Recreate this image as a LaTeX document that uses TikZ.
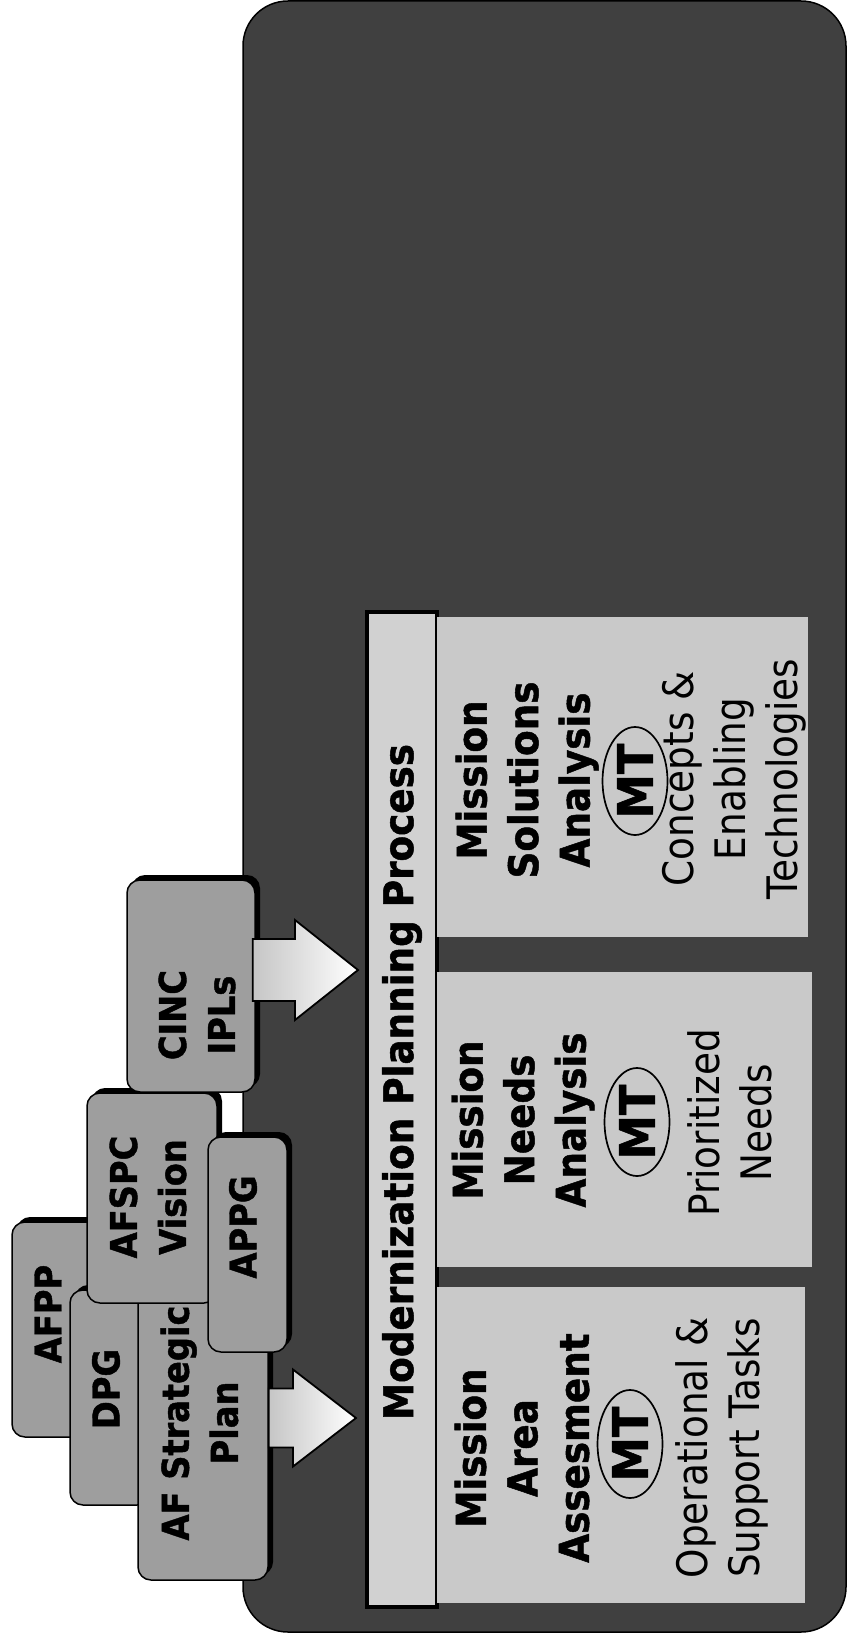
\documentclass[tikz,border=0pt]{standalone}
\usepackage{fontspec}
\usetikzlibrary{calc,shapes.geometric,shadows}
\newfontfamily\bfam{DejaVu Sans Bold}[FakeStretch=0.91, FakeBold=1.2]
\newfontfamily\rfam{DejaVu Sans}[FakeStretch=0.89]
\definecolor{darkg}{gray}{0.25}
\definecolor{midg}{gray}{0.62}
\definecolor{lightg}{gray}{0.79}
\definecolor{barg}{gray}{0.82}
\tikzset{
  panel/.style={draw=black, line width=1.5pt, fill=darkg, rounded corners=45pt, inner sep=0pt},
  card/.style={draw=black, line width=1.5pt, fill=midg, rounded corners=13pt, inner sep=0pt,
    drop shadow={shadow xshift=5pt, shadow yshift=5pt, opacity=1, fill=black}},
  cardtext/.style={rotate=90, align=center, inner sep=0pt, font=\bfam\fontsize{37}{49}\selectfont},
  barbox/.style={draw=black, line width=4pt, fill=barg, inner sep=0pt},
  stagebox/.style={fill=lightg, inner sep=0pt},
  bartext/.style={rotate=90, inner sep=0pt, font=\bfam\fontsize{41}{51}\selectfont},
  headtext/.style={rotate=90, align=center, inner sep=0pt, font=\bfam\fontsize{41}{51.5}\selectfont},
  desctext/.style={rotate=90, align=center, inner sep=0pt, font=\rfam\fontsize{42}{52}\selectfont},
  mtbadge/.style={rotate=90, ellipse, draw=black, line width=1.7pt, minimum width=108pt, minimum height=65pt, inner sep=0pt, font=\bfam\fontsize{49}{49}\selectfont},
  blockarrow/.style={draw=black, line width=1.8pt, left color=gray!45, right color=white, line join=miter}
}
\begin{document}
\begin{tikzpicture}[x=1pt,y=-1pt]
\useasboundingbox (0,0) rectangle (847,1640);
% background panel
\node[panel, minimum width=603pt, minimum height=1631pt] (panel) at (544.5,816.5) {};
% input cards
\node[card, minimum width=103pt, minimum height=215pt] (afpp) at (63.5,1329.5) {};
\node[cardtext] (afppt) at (48,1314) {AFPP};
\node[card, minimum width=80pt, minimum height=215pt] (dpg) at (110,1397.5) {};
\node[cardtext] (dpgt) at (106,1389) {DPG};
\node[card, minimum width=130pt, minimum height=324pt] (afsp) at (203,1418) {};
\node[cardtext] (afspt) at (199.5,1423) {AF Strategic\\Plan};
\node[card, minimum width=130pt, minimum height=210pt] (afspc) at (152,1198) {};
\node[cardtext] (afspct) at (148,1197) {AFSPC\\Vision};
\node[card, minimum width=79pt, minimum height=215pt] (appg) at (247.5,1244.5) {};
\node[cardtext] (appgt) at (243,1227) {APPG};
\node[card, minimum width=128pt, minimum height=212pt] (cinc) at (191,986) {};
\node[cardtext] (cinct) at (197,1015) {CINC\\IPLs};
% process bar
\node[barbox, minimum width=70pt, minimum height=995pt] (bar) at (402,1109.5) {};
\node[bartext] (bart) at (402,1082) {Modernization Planning Process};
% arrows
\coordinate (s1) at (afsp.east);
\coordinate (t1) at ($(bar.west |- s1)+(-9,0)$);
\path[blockarrow] ($(s1)+(0,-29.5)$) -- ($(t1)+(-63,-29.5)$) -- ($(t1)+(-63,-48.5)$) -- (t1)
  -- ($(t1)+(-63,48.5)$) -- ($(t1)+(-63,29.5)$) -- ($(s1)+(0,29.5)$) -- cycle;
\coordinate (s2) at ($(cinc.east)+(-3,-16)$);
\coordinate (t2) at ($(bar.west |- s2)+(-7,0)$);
\path[blockarrow] ($(s2)+(0,-31)$) -- ($(t2)+(-63,-31)$) -- ($(t2)+(-63,-50)$) -- (t2)
  -- ($(t2)+(-63,50)$) -- ($(t2)+(-63,31)$) -- ($(s2)+(0,31)$) -- cycle;
% stage boxes
\node[stagebox, minimum width=368pt, minimum height=316pt] (maa) at (621,1445) {};
\node[headtext] (maah) at (522,1448) {Mission\\Area\\Assesment};
\node[mtbadge] (maam) at (630,1444) {MT};
\node[desctext] (maad) at (722,1448) {Operational \&\\Support Tasks};
\node[stagebox, minimum width=375pt, minimum height=295pt] (mna) at (624.5,1119.5) {};
\node[headtext] (mnah) at (523,1120) {Mission\\Needs\\Analysis};
\node[mtbadge] (mnam) at (637,1122) {MT};
\node[desctext] (mnad) at (730,1123) {Prioritized\\Needs};
\node[stagebox, minimum width=371pt, minimum height=320pt] (msa) at (622.5,777) {};
\node[headtext] (msah) at (527,780) {Mission\\Solutions\\Analysis};
\node[mtbadge] (msam) at (635,781) {MT};
\node[desctext] (msad) at (734,779) {Concepts \&\\Enabling\\Technologies};
\end{tikzpicture}
\end{document}
